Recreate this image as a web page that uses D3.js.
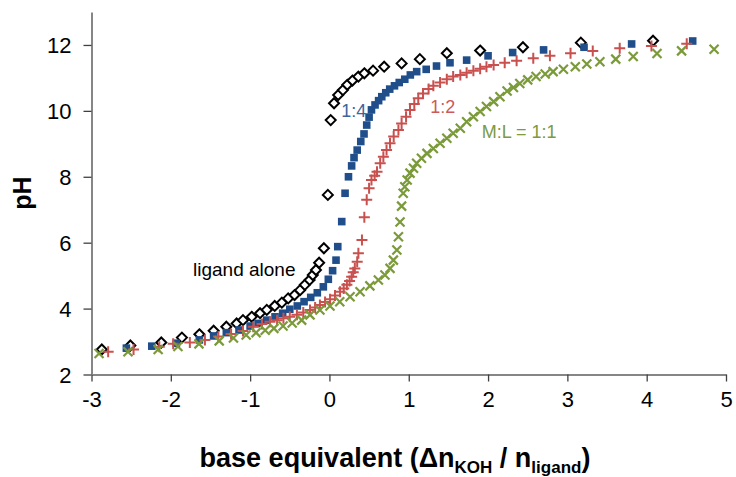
<!DOCTYPE html>
<html><head><meta charset="utf-8">
<script src="https://cdn.jsdelivr.net/npm/d3@7"></script>
<style>body{margin:0;background:#fff;} text{font-family:"Liberation Sans",Arial,sans-serif;}</style>
</head><body>
<svg id="c" width="736" height="477"></svg>
<script>
// ---- data ----
const xTicks = [-3,-2,-1,0,1,2,3,4,5];
const yTicks = [2,4,6,8,10,12];

const ligandAlone = [[-2.87,2.76],[-2.51,2.88],[-2.12,2.97],[-1.86,3.12],[-1.64,3.22],[-1.46,3.33],[-1.30,3.45],[-1.17,3.55],[-1.09,3.65],[-0.98,3.75],[-0.875,3.86],[-0.79,3.96],[-0.69,4.08],[-0.60,4.18],[-0.52,4.31],[-0.44,4.41],[-0.37,4.56],[-0.31,4.72],[-0.25,4.87],[-0.21,5.02],[-0.17,5.17],[-0.13,5.39],[-0.07,5.83],[-0.02,7.45],[0.016,9.72],[0.058,10.23],[0.11,10.48],[0.17,10.63],[0.225,10.79],[0.29,10.92],[0.365,11.04],[0.44,11.14],[0.55,11.22],[0.69,11.34],[0.91,11.44],[1.14,11.57],[1.48,11.75],[1.90,11.83],[2.44,11.93],[3.17,12.07],[4.08,12.13]];

const ratio14 = [[-2.56,2.80],[-2.24,2.86],[-1.93,2.95],[-1.64,3.05],[-1.46,3.17],[-1.30,3.27],[-1.14,3.35],[-1.00,3.47],[-0.90,3.55],[-0.79,3.65],[-0.686,3.75],[-0.59,3.86],[-0.50,3.98],[-0.405,4.08],[-0.32,4.21],[-0.236,4.34],[-0.153,4.48],[-0.077,4.66],[-0.014,4.89],[0.04,5.15],[0.083,5.47],[0.105,5.88],[0.155,6.64],[0.197,7.50],[0.24,8.0],[0.28,8.33],[0.31,8.58],[0.35,8.81],[0.395,9.07],[0.436,9.30],[0.47,9.57],[0.50,9.81],[0.53,10.03],[0.575,10.18],[0.62,10.31],[0.66,10.43],[0.71,10.55],[0.76,10.66],[0.82,10.76],[0.88,10.86],[0.95,10.96],[1.02,11.09],[1.10,11.19],[1.22,11.26],[1.35,11.36],[1.52,11.46],[1.73,11.54],[2.00,11.67],[2.31,11.77],[2.70,11.85],[3.21,11.93],[3.81,12.03],[4.58,12.12]];

const ratio12 = [[-2.79,2.69],[-2.47,2.76],[-2.145,2.84],[-1.97,2.93],[-1.76,2.97],[-1.57,3.05],[-1.40,3.15],[-1.24,3.23],[-1.09,3.32],[-0.96,3.45],[-0.85,3.53],[-0.75,3.60],[-0.66,3.65],[-0.58,3.71],[-0.50,3.75],[-0.41,3.81],[-0.33,3.88],[-0.245,3.96],[-0.18,4.03],[-0.12,4.11],[-0.055,4.20],[0.008,4.28],[0.07,4.40],[0.134,4.51],[0.18,4.61],[0.22,4.72],[0.254,4.84],[0.28,4.97],[0.30,5.10],[0.32,5.22],[0.35,5.42],[0.365,5.68],[0.41,6.08],[0.44,6.77],[0.47,7.30],[0.50,7.65],[0.53,7.90],[0.57,8.03],[0.60,8.15],[0.64,8.41],[0.68,8.61],[0.72,8.81],[0.764,9.02],[0.81,9.22],[0.87,9.42],[0.91,9.62],[0.966,9.82],[1.016,10.03],[1.07,10.21],[1.12,10.38],[1.18,10.53],[1.25,10.66],[1.31,10.76],[1.395,10.86],[1.48,10.96],[1.56,11.04],[1.65,11.09],[1.73,11.16],[1.815,11.22],[1.90,11.28],[1.98,11.34],[2.07,11.39],[2.21,11.46],[2.36,11.52],[2.57,11.60],[2.78,11.67],[3.04,11.75],[3.32,11.82],[3.66,11.90],[4.06,11.97],[4.505,12.04]];

const ratio11 = [[-2.905,2.64],[-2.54,2.69],[-2.16,2.76],[-1.91,2.85],[-1.645,2.93],[-1.39,3.02],[-1.21,3.11],[-1.05,3.20],[-0.925,3.27],[-0.81,3.34],[-0.70,3.40],[-0.585,3.47],[-0.47,3.56],[-0.35,3.65],[-0.245,3.81],[-0.12,3.96],[0.007,4.08],[0.13,4.21],[0.26,4.36],[0.386,4.51],[0.51,4.69],[0.617,4.87],[0.70,5.02],[0.764,5.22],[0.806,5.47],[0.85,5.78],[0.87,6.18],[0.89,6.63],[0.91,7.11],[0.93,7.50],[0.95,7.70],[0.98,7.90],[1.016,8.11],[1.06,8.26],[1.10,8.41],[1.16,8.56],[1.23,8.71],[1.31,8.86],[1.395,9.02],[1.48,9.17],[1.56,9.32],[1.65,9.47],[1.73,9.67],[1.815,9.82],[1.90,9.98],[1.98,10.13],[2.07,10.28],[2.15,10.43],[2.24,10.60],[2.32,10.71],[2.40,10.83],[2.50,10.94],[2.605,11.04],[2.72,11.12],[2.82,11.19],[2.95,11.26],[3.10,11.34],[3.245,11.42],[3.41,11.49],[3.61,11.57],[3.83,11.65],[4.13,11.74],[4.44,11.82],[4.85,11.87]];

const labels = [
  {text:"ligand alone", x:-1.72, y:5.0, color:"#000000", size:19},
  {text:"1:4", x:0.15, y:9.82, color:"#3D659C", size:18},
  {text:"1:2", x:1.27, y:9.95, color:"#CC5A58", size:18},
  {text:"M:L = 1:1", x:1.92, y:9.18, color:"#7D9A3E", size:18}
];

// ---- chart ----
const svg = d3.select("#c");
const x = d3.scaleLinear().domain([-3,5]).range([91.5,726]);
const y = d3.scaleLinear().domain([2,13]).range([374.5,12]);

const gx = svg.append("g").attr("transform","translate(0,374.5)")
  .call(d3.axisBottom(x).tickValues(xTicks).tickSize(7).tickSizeOuter(0).tickPadding(10).tickFormat(d=>String(d)));
const gy = svg.append("g").attr("transform","translate(91.5,0)")
  .call(d3.axisLeft(y).tickValues(yTicks).tickSize(8).tickSizeOuter(0).tickPadding(12).tickFormat(d=>String(d)));
[gx,gy].forEach(g=>{
  g.select(".domain").attr("stroke","#868686").attr("stroke-width",2);
  g.selectAll(".tick line").attr("stroke","#404040").attr("stroke-width",1.3);
  g.selectAll(".tick text").attr("font-size",22).attr("fill","#000").attr("font-family","Liberation Sans, Arial, sans-serif");
});
gy.selectAll(".tick text").attr("dy","0.36em");

// series
const blue="#1F4E8A", red="#C8504E", green="#7B9A3A";
svg.append("g").selectAll("path").data(ligandAlone).join("path")
  .attr("d","M0,-5L5,0L0,5L-5,0Z")
  .attr("transform",d=>`translate(${x(d[0])},${y(d[1])})`)
  .attr("fill","#fff").attr("stroke","#000").attr("stroke-width",2);
svg.append("g").selectAll("rect").data(ratio14).join("rect")
  .attr("x",d=>x(d[0])-3.8).attr("y",d=>y(d[1])-3.8).attr("width",7.6).attr("height",7.6)
  .attr("fill",blue);
svg.append("g").selectAll("path").data(ratio12).join("path")
  .attr("d","M-5.5,0H5.5M0,-5.5V5.5")
  .attr("transform",d=>`translate(${x(d[0])},${y(d[1])})`)
  .attr("stroke",red).attr("stroke-width",2).attr("fill","none");
svg.append("g").selectAll("path").data(ratio11).join("path")
  .attr("d","M-4.5,-4.5L4.5,4.5M-4.5,4.5L4.5,-4.5")
  .attr("transform",d=>`translate(${x(d[0])},${y(d[1])})`)
  .attr("stroke",green).attr("stroke-width",2.2).attr("fill","none");

// labels
svg.append("g").selectAll("text").data(labels).join("text")
  .attr("x",d=>x(d.x)).attr("y",d=>y(d.y))
  .attr("font-size",d=>d.size).attr("fill",d=>d.color).text(d=>d.text);

// axis titles
svg.append("text").attr("transform","translate(31,193) rotate(-90)")
  .attr("text-anchor","middle").attr("font-size",25).attr("font-weight","bold").text("pH");
const t = svg.append("text").attr("x",395).attr("y",467).attr("text-anchor","middle")
  .attr("font-size",27).attr("font-weight","bold");
t.append("tspan").text("base equivalent (\u0394n");
t.append("tspan").attr("font-size",17).attr("dy",6).text("KOH");
t.append("tspan").attr("dy",-6).text(" / n");
t.append("tspan").attr("font-size",17).attr("dy",6).text("ligand");
t.append("tspan").attr("dy",-6).text(")");
</script>
</body></html>
